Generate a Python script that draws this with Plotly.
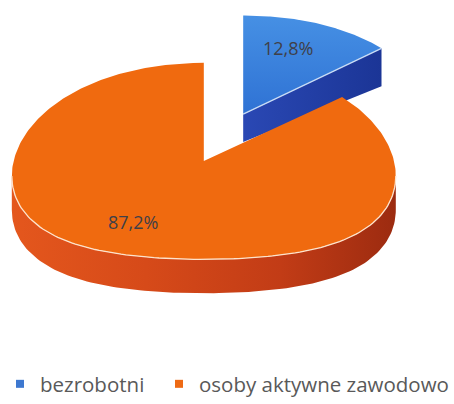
import math
import plotly.graph_objects as go

# ---- data ----
labels = ["bezrobotni", "osoby aktywne zawodowo"]
values = [12.8, 87.2]
text_labels = ["12,8%", "87,2%"]

# ---- style ----
top_colors = ["#3a80dc", "#f06a0f"]
side_colors = ["#1f3ea6", "#d24717"]
legend_colors = ["#3d78d0", "#ee6a14"]
legend_x = [0.0, 0.356]
pulls = [0.524, 0.0]
label_angle_shift = [-4, 9]     # degrees, label placement tweak
label_radius = [0.72, 0.70]

W, H = 454, 404
CX, CY = 207, 161.5
RX, RY = 195, 98.5
K = 15
T = 34  # thickness in px


def proj(u, v, dz=0.0):
    x = CX + RX * u
    y = CY - RY * v + K * u * u * max(0.0, 1 - v / 1.5) + dz
    return x, y


def arc(u0, v0, a0, a1, n=120, dz=0.0):
    xs, ys = [], []
    for k in range(n + 1):
        a = math.radians(a0 + (a1 - a0) * k / n)
        x, y = proj(u0 + math.sin(a), v0 + math.cos(a), dz)
        xs.append(x)
        ys.append(y)
    return xs, ys


total = sum(values)
angles = []
acc = 0.0
for v in values:
    a0 = acc / total * 360
    acc += v
    a1 = acc / total * 360
    angles.append((a0, a1))

centers = []
for (a0, a1), p in zip(angles, pulls):
    m = math.radians((a0 + a1) / 2)
    centers.append((p * math.sin(m), p * math.cos(m)))

fig = go.Figure()

# ---- blue slice (back) ----
(b0, b1) = angles[0]
bu, bv = centers[0]
ax, ay = proj(bu, bv)
ex, ey = proj(bu + math.sin(math.radians(b1)), bv + math.cos(math.radians(b1)))
fig.add_trace(go.Scatter(
    x=[ax, ex, ex, ax, ax], y=[ay, ey, ey + T + 4, ay + T - 6, ay],
    mode="lines", fill="toself", line=dict(width=0),
    fillcolor=side_colors[0],
    fillgradient=dict(type="horizontal", colorscale=[[0, "#2a48b4"], [1, "#1b3596"]], start=ax, stop=ex),
    hoverinfo="skip", showlegend=False))
xs, ys = arc(bu, bv, b0, b1)
fig.add_trace(go.Scatter(
    x=[ax] + xs + [ax], y=[ay] + ys + [ay],
    mode="lines", fill="toself", line=dict(width=0),
    fillcolor=top_colors[0],
    fillgradient=dict(type="vertical", colorscale=[[0, "#4690e4"], [1, "#2f72d4"]], start=min(ys), stop=ay),
    hoverinfo="skip", showlegend=False))
fig.add_trace(go.Scatter(
    x=[ax, ex], y=[ay, ey], mode="lines", line=dict(color="#c9dcf5", width=1.3),
    hoverinfo="skip", showlegend=False))

# ---- orange slice (front) ----
(o0, o1) = angles[1]
ou, ov = centers[1]
oax, oay = proj(ou, ov)
txs, tys = arc(ou, ov, max(o0, 90), min(o1, 270))
bxs, bys = arc(ou, ov, max(o0, 90), min(o1, 270), dz=T)
fig.add_trace(go.Scatter(
    x=txs + bxs[::-1] + [txs[0]], y=tys + bys[::-1] + [tys[0]],
    mode="lines", fill="toself", line=dict(width=0),
    fillcolor=side_colors[1],
    fillgradient=dict(type="horizontal",
                      colorscale=[[0, "#e4571d"], [0.35, "#d64a19"], [0.7, "#c23c16"], [1, "#9c2b10"]],
                      start=min(txs), stop=max(txs)),
    hoverinfo="skip", showlegend=False))
xs, ys = arc(ou, ov, o0, o1, n=300)
fig.add_trace(go.Scatter(
    x=[oax] + xs + [oax], y=[oay] + ys + [oay],
    mode="lines", fill="toself", line=dict(width=0),
    fillcolor=top_colors[1],
    hoverinfo="skip", showlegend=False))
fig.add_trace(go.Scatter(
    x=txs, y=tys, mode="lines", line=dict(color="#fde3cc", width=1.3),
    hoverinfo="skip", showlegend=False))

# ---- labels ----
for i, ((a0, a1), (cu, cv)) in enumerate(zip(angles, centers)):
    m = math.radians((a0 + a1) / 2 + label_angle_shift[i])
    lx, ly = proj(cu + label_radius[i] * math.sin(m), cv + label_radius[i] * math.cos(m))
    fig.add_annotation(x=lx, y=ly, text=text_labels[i], showarrow=False,
                       font=dict(family="Open Sans", size=18, color="#3f4048"))

# ---- legend entries (one legend each, so they can be placed like the original) ----
legend_names = ["legend", "legend2"]
for lab, col, lg in zip(labels, legend_colors, legend_names):
    fig.add_trace(go.Scatter(x=[None], y=[None], mode="markers", name=lab, legend=lg,
                             marker=dict(symbol="square", size=8, color=col)))

legend_style = dict(orientation="h", y=0.047, xanchor="left", yanchor="middle",
                    font=dict(family="Open Sans", size=20.5, color="#595959"),
                    itemwidth=30, bgcolor="rgba(0,0,0,0)")

fig.update_layout(
    width=W, height=H,
    margin=dict(l=0, r=0, t=0, b=0),
    paper_bgcolor="white", plot_bgcolor="white",
    xaxis=dict(range=[0, W], visible=False, fixedrange=True),
    yaxis=dict(range=[H, 0], visible=False, fixedrange=True),
    showlegend=True,
    legend=dict(x=legend_x[0], **legend_style),
    legend2=dict(x=legend_x[1], **legend_style),
)

fig.write_html("out.html", config={"displayModeBar": False},
               post_script="document.body.style.margin='0';document.body.style.overflow='hidden';")
